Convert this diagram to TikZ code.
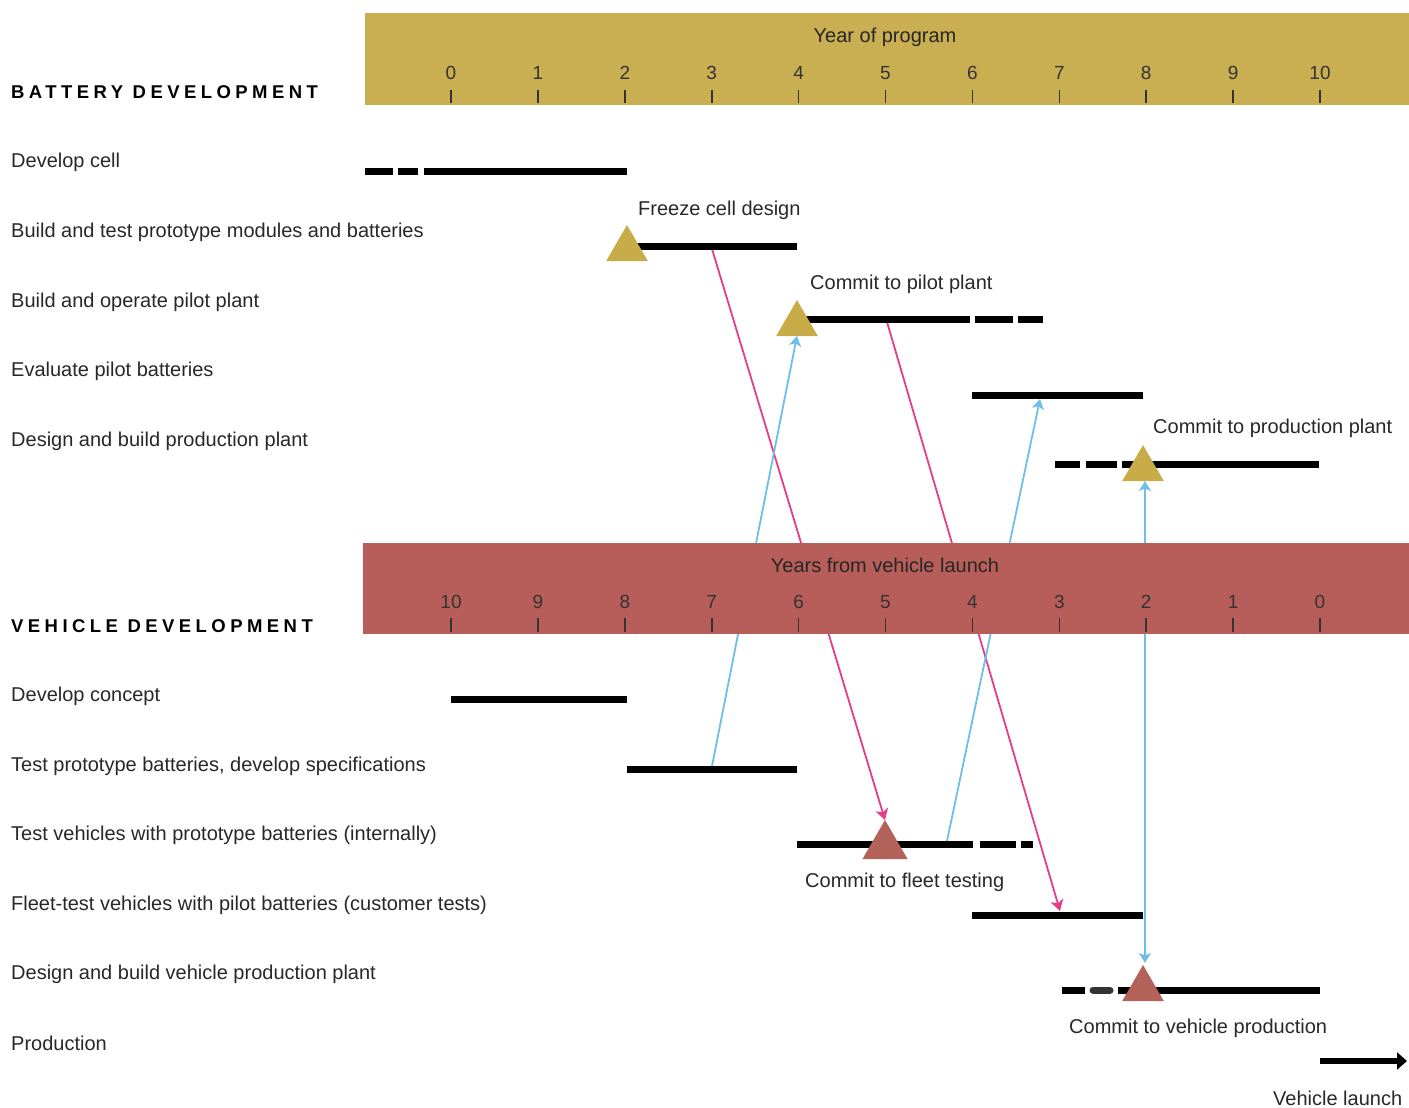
\documentclass[tikz,border=0pt]{standalone}
\usepackage{fontspec}
\setmainfont{Liberation Sans}
\newfontfamily\headfont[LetterSpace=24]{Liberation Sans}
\usetikzlibrary{arrows.meta,shapes.geometric}
\pgfdeclarelayer{back}
\pgfdeclarelayer{bg}
\pgfsetlayers{back,bg,main}
\definecolor{goldband}{RGB}{201,174,82}
\definecolor{goldtri}{RGB}{200,172,72}
\definecolor{redband}{RGB}{184,94,90}
\definecolor{redtri}{RGB}{178,98,88}
\definecolor{pinkc}{RGB}{228,62,138}
\definecolor{bluec}{RGB}{110,190,232}
\definecolor{txt}{RGB}{40,40,40}
\begin{document}
\begin{tikzpicture}[x=1pt,y=-1pt,
  rowlabel/.style={anchor=west, inner sep=0pt, text=txt, font=\fontsize{20}{24}\selectfont},
  notelabel/.style={anchor=west, inner sep=0pt, text=txt, font=\fontsize{20}{24}\selectfont},
  headlabel/.style={anchor=west, inner sep=0pt, text=black, font=\headfont\bfseries\fontsize{18.5}{22}\selectfont},
  scalenum/.style={inner sep=0pt, text=black!80, font=\fontsize{19}{22}\selectfont},
  scaletitle/.style={inner sep=0pt, text=black!85, font=\fontsize{20}{24}\selectfont},
  tick/.style={draw=black!80, line width=1.6pt},
  bar/.style={draw=black, line width=7pt},
  mstone/.style={regular polygon, regular polygon sides=3, minimum size=48pt, inner sep=0pt, outer sep=0pt, draw=none},
  pinkarrow/.style={draw=pinkc, line width=1.8pt, -{Stealth[length=11pt,width=13pt,inset=3pt]}},
  bluearrow/.style={draw=bluec, line width=1.8pt, -{Stealth[length=10pt,width=12pt,inset=2.5pt]}}
]
\useasboundingbox (0,0) rectangle (1409,1108);
\begin{pgfonlayer}{back}
\fill[white] (0,0) rectangle (1409,1108);
\end{pgfonlayer}

% ---------- bands ----------
\fill[goldband] (365,13) rectangle (1409,105);
\node[scaletitle] (ytitle) at (885,37) {Year of program};
\foreach \i in {0,...,10} {
  \pgfmathsetmacro{\xx}{451+86.9*\i}
  \node[scalenum] (yn\i) at (\xx,73) {\i};
  \draw[tick] (\xx,90) -- (\xx,103);
}
\fill[redband] (363,543) rectangle (1409,634);
\node[scaletitle] (vtitle) at (885,565) {Years from vehicle launch};
\foreach \i in {0,...,10} {
  \pgfmathsetmacro{\xx}{451+86.9*\i}
  \pgfmathtruncatemacro{\lab}{10-\i}
  \node[scalenum] (vn\i) at (\xx,602) {\lab};
  \draw[tick] (\xx,618) -- (\xx,632);
}

% ---------- headings and row labels ----------
\node[headlabel] (hb) at (11,92) {BATTERY DEVELOPMENT};
\node[rowlabel] (r1) at (11,162) {Develop cell};
\node[rowlabel] (r2) at (11,232) {Build and test prototype modules and batteries};
\node[rowlabel] (r3) at (11,302) {Build and operate pilot plant};
\node[rowlabel] (r4) at (11,371) {Evaluate pilot batteries};
\node[rowlabel] (r5) at (11,441) {Design and build production plant};
\node[headlabel] (hv) at (11,626) {VEHICLE DEVELOPMENT};
\node[rowlabel] (v1) at (11,696) {Develop concept};
\node[rowlabel] (v2) at (11,766) {Test prototype batteries, develop specifications};
\node[rowlabel] (v3) at (11,835) {Test vehicles with prototype batteries (internally)};
\node[rowlabel] (v4) at (11,905) {Fleet-test vehicles with pilot batteries (customer tests)};
\node[rowlabel] (v5) at (11,974) {Design and build vehicle production plant};
\node[rowlabel] (v6) at (11,1043) {Production};

% ---------- bars ----------
\draw[bar] (365,171) -- (393,171);
\draw[bar] (398,171) -- (418,171);
\draw[bar] (424,171) -- (627,171);
\draw[bar] (627,246) -- (797,246);
\draw[bar] (797,319) -- (970,319);
\draw[bar] (975,319) -- (1013,319);
\draw[bar] (1018,319) -- (1043,319);
\draw[bar] (972,395) -- (1143,395);
\draw[bar] (1055,464) -- (1080,464);
\draw[bar] (1086,464) -- (1117,464);
\draw[bar] (1122,464) -- (1319,464);
\draw[bar] (451,699) -- (627,699);
\draw[bar] (627,769) -- (797,769);
\draw[bar] (797,844) -- (973,844);
\draw[bar] (980,844) -- (1016,844);
\draw[bar] (1021,844) -- (1033,844);
\draw[bar] (972,915) -- (1143,915);
\draw[bar] (1062,990) -- (1085,990);
\draw[bar, line cap=round, draw=black!80] (1093,990) -- (1110,990);
\draw[bar] (1118,990) -- (1320,990);

% ---------- milestones ----------
\node[mstone, fill=goldtri] (m1) at (627,249) {};
\node[mstone, fill=goldtri] (m2) at (797,324) {};
\node[mstone, fill=goldtri] (m3) at (1143,469) {};
\node[mstone, fill=redtri, minimum size=52pt] (m4) at (885,846) {};
\node[mstone, fill=redtri] (m5) at (1143,989) {};

\node[notelabel] (n1) at (638,210) {Freeze cell design};
\node[notelabel] (n2) at (810,284) {Commit to pilot plant};
\node[notelabel] (n3) at (1153,428) {Commit to production plant};
\node[notelabel] (n4) at (805,882) {Commit to fleet testing};
\node[notelabel] (n5) at (1069,1028) {Commit to vehicle production};
\node[notelabel] (n6) at (1273,1098) {Vehicle launch};

% ---------- connector end points ----------
\coordinate (p1s) at (712,249);
\coordinate (p2s) at (887,322);
\coordinate (p2e) at (1060,911);
\coordinate (b1s) at (712,766);
\coordinate (b2s) at (947,841);
\coordinate (b2e) at (1040,399);
\coordinate (b3s) at (1145,913);
\coordinate (b3e) at (1145,481);
\coordinate (b4e) at (1145,963);
\coordinate (launchS) at (1320,1061);
\coordinate (launchE) at (1407,1061);

\begin{pgfonlayer}{bg}
  \draw[pinkarrow] (p1s) -- (m4.corner 1);
  \draw[pinkarrow] (p2s) -- (p2e);
  \draw[bluearrow] (b1s) -- (m2.south);
  \draw[bluearrow] (b2s) -- (b2e);
  \draw[bluearrow] (b3s) -- (b3e);
  \draw[bluearrow] (b3s) -- (b4e);
\end{pgfonlayer}

\draw[black, line width=6.5pt, -{Triangle[length=10pt,width=17pt]}] (launchS) -- (launchE);
\end{tikzpicture}
\end{document}
